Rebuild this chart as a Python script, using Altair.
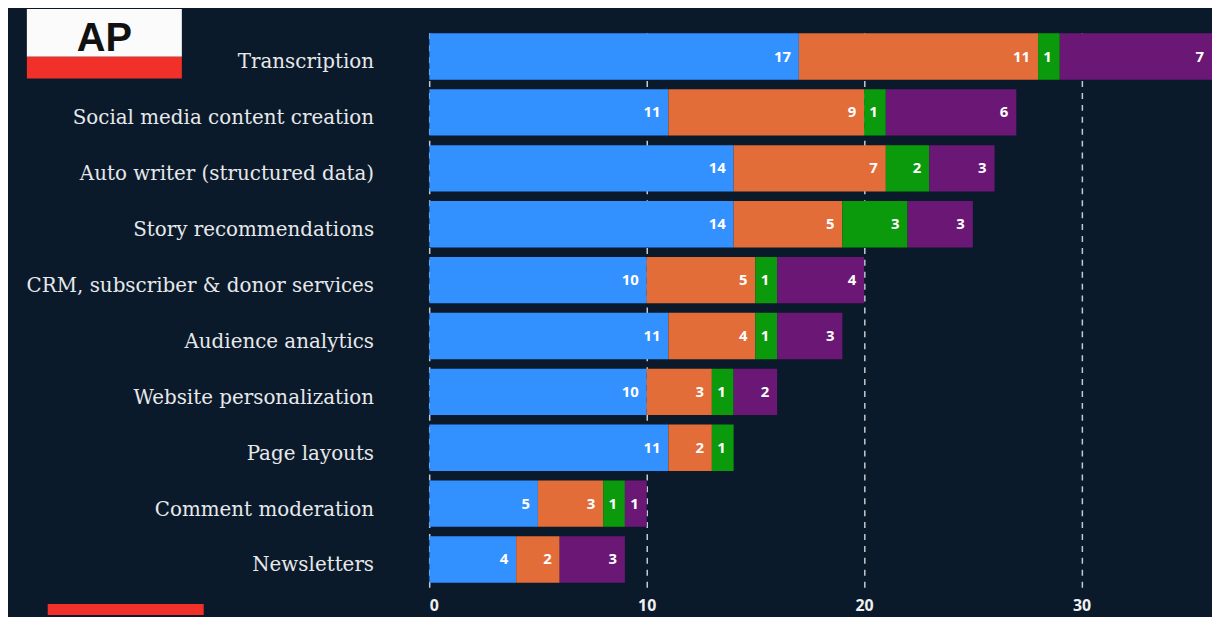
import altair as alt
import pandas as pd

categories = [
    "Transcription",
    "Social media content creation",
    "Auto writer (structured data)",
    "Story recommendations",
    "CRM, subscriber & donor services",
    "Audience analytics",
    "Website personalization",
    "Page layouts",
    "Comment moderation",
    "Newsletters",
]
series = ["Group 1", "Group 2", "Group 3", "Group 4"]
blue = [17, 11, 14, 14, 10, 11, 10, 11, 5, 4]
orange = [11, 9, 7, 5, 5, 4, 3, 2, 3, 2]
green = [1, 1, 2, 3, 1, 1, 1, 1, 1, 0]
purple = [7, 6, 3, 3, 4, 3, 2, 0, 1, 3]
colors = ["#3390ff", "#e36d39", "#0b9a0c", "#6b1776"]
x_ticks = [0, 10, 20, 30]

rows = []
for i, cat in enumerate(categories):
    for k, vals in enumerate([blue, orange, green, purple]):
        if vals[i] > 0:
            rows.append({"task": cat, "series": series[k], "order": k, "value": vals[i]})
df = pd.DataFrame(rows)

y_enc = alt.Y(
    "task:N",
    sort=categories,
    scale=alt.Scale(paddingInner=0.17, paddingOuter=0.08),
    axis=alt.Axis(
        title=None, domain=False, ticks=False, labelFont="DejaVu Serif",
        labelFontSize=20, labelColor="#e6e8ea", labelPadding=56, labelLimit=0,
        labelOffset=6,
    ),
)

base = alt.Chart(df).transform_stack(
    stack="value", groupby=["task"], as_=["x0", "x1"],
    sort=[alt.SortField("order", order="ascending")],
)

bars = base.mark_bar(clip=True).encode(
    y=y_enc,
    x=alt.X(
        "x0:Q",
        scale=alt.Scale(domain=[0, 36], nice=False, zero=True),
        axis=alt.Axis(
            title=None, values=x_ticks, grid=True, gridDash=[6, 6], gridColor="#c5cad1",
            gridWidth=1.5, domain=False, ticks=False, labelColor="#f0f0f0",
            labelFont="Open Sans", labelFontWeight="bold", labelFontSize=16, labelPadding=10,
        ),
    ),
    x2="x1:Q",
    color=alt.Color("series:N", scale=alt.Scale(domain=series, range=colors), legend=None),
)

labels = base.mark_text(
    align="right", baseline="middle", dx=-8, color="white",
    font="Open Sans", fontWeight="bold", fontSize=15,
).encode(y=alt.Y("task:N", sort=categories), x="x1:Q", text="value:Q")

deco = alt.Chart(alt.Data(values=[{}]))
logo_white = deco.mark_rect(color="#fbfbfb").encode(
    x=alt.value(-405), x2=alt.value(-249), y=alt.value(-20), y2=alt.value(28)
)
logo_red = deco.mark_rect(color="#f2302a").encode(
    x=alt.value(-405), x2=alt.value(-249), y=alt.value(28), y2=alt.value(50)
)
logo_text = deco.mark_text(
    text="AP", font="Liberation Sans", fontWeight="bold", fontSize=40,
    color="#111111", align="center", baseline="alphabetic",
).encode(x=alt.value(-327), y=alt.value(22))
red_line = deco.mark_rect(color="#f2302a").encode(
    x=alt.value(-384), x2=alt.value(-227), y=alt.value(579), y2=alt.value(590)
)

chart = (
    alt.layer(bars, labels, logo_white, logo_red, logo_text, red_line)
    .properties(
        width=788, height=562, autosize="none",
        padding={"left": 424, "top": 19, "right": 0, "bottom": 28},
        background="#0b1a2a",
    )
    .configure_view(stroke=None)
    .configure_axisX(labelFontSize=16, labelFont="Open Sans", labelFontWeight="bold")
)

chart.save("out.html", embed_options={"renderer": "svg", "actions": False})
